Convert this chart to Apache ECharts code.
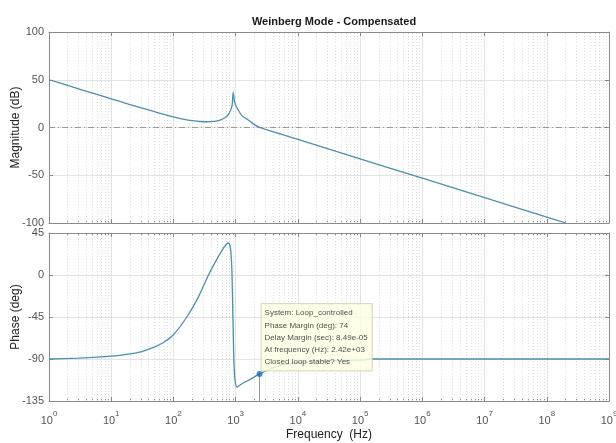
<!DOCTYPE html>
<html>
<head>
<meta charset="utf-8">
<script src="https://cdn.jsdelivr.net/npm/echarts@6/dist/echarts.min.js"></script>
<style>
  html, body { margin: 0; background: #fff; }
  #chart { width: 616px; height: 443px; }
</style>
</head>
<body>
<div id="chart"></div>
<script>
// magnitude curve (Hz, dB)
const magFreq = [1, 2, 5, 10, 20, 50, 100, 150, 200, 270, 350, 450, 560, 680, 770, 840, 880, 912, 960, 1045, 1260, 1500, 1710, 2000, 2420, 3000, 1e4, 1e5, 1e6, 1e7, 1e8, 2.02e8];
const magDb = [50, 44, 36, 30, 24, 16.5, 11, 8.5, 7.2, 6.3, 6, 6.4, 7.7, 10.5, 14, 19, 24, 37, 27, 21, 12.5, 9, 6.5, 3, 0, -1.9, -12.5, -32.8, -53.1, -73.4, -93.8, -100];

// phase curve (Hz, deg)
const phFreq = [1, 3, 10, 20, 31, 50, 70, 100, 164, 250, 366, 500, 640, 755, 800, 840, 870, 900, 930, 960, 1000, 1047, 1300, 1700, 2420, 3500, 5000, 1e4, 3e4, 1.25e5, 1.3e5, 1e9];
const phDeg = [-90, -89, -87, -84.5, -82, -77, -72, -64, -45, -24, 0, 17, 29, 34.3, 33, 24, 5, -40, -85, -108, -117, -120, -116, -112, -106, -101, -97, -94, -92, -91, -90, -90];

// phase margin datatip
const pmFreq = 2420;
const pmPhase = -106;
const tipLines = [
  'System: Loop_controlled',
  'Phase Margin (deg): 74',
  'Delay Margin (sec): 8.49e-05',
  'At frequency (Hz): 2.42e+03',
  'Closed loop stable? Yes'
];

const magTicks = { min: -100, max: 100, interval: 50 };
const phTicks = { min: -135, max: 45, interval: 45 };
const freqRange = { min: 1, max: 1e9 };

const font = "'Liberation Sans', Arial, sans-serif";
const lineColor = '#4d8fac';
const boxColor = '#8a8a8a';

// minor grid lines at 2..9 x 10^n
const minorX = [];
for (let n = 0; n < 9; n++) {
  for (let k = 2; k <= 9; k++) minorX.push(k * Math.pow(10, n));
}

const zip = (xs, ys) => xs.map((x, i) => [x, ys[i]]);

function xAxisFor(grid, bottom) {
  return {
    type: 'log',
    logBase: 10,
    gridIndex: grid,
    position: bottom ? 'bottom' : 'top',
    min: freqRange.min,
    max: freqRange.max,
    axisLine: { show: true, onZero: false, lineStyle: { color: boxColor, width: 1 } },
    axisTick: { show: true, inside: true, length: 4, lineStyle: { color: boxColor } },
    minorTick: { show: true, splitNumber: 9, length: 2, lineStyle: { color: boxColor } },
    splitLine: { show: bottom, lineStyle: { color: '#e3e3e3', width: 1 } },
    axisLabel: {
      show: bottom && grid === 1,
      margin: 9,
      formatter: (v) => '{b|10}{s|' + Math.round(Math.log10(v)) + '}',
      rich: {
        b: { fontFamily: font, fontSize: 11, color: '#555', lineHeight: 16, verticalAlign: 'bottom' },
        s: { fontFamily: font, fontSize: 8, color: '#555', lineHeight: 9, verticalAlign: 'top' }
      }
    },
    name: bottom && grid === 1 ? 'Frequency  (Hz)' : '',
    nameLocation: 'middle',
    nameGap: 28,
    nameTextStyle: { fontFamily: font, fontSize: 12, color: '#222' }
  };
}

function yAxisFor(grid, left, ticks, name) {
  return {
    type: 'value',
    gridIndex: grid,
    position: left ? 'left' : 'right',
    min: ticks.min,
    max: ticks.max,
    interval: ticks.interval,
    axisLine: { show: true, lineStyle: { color: boxColor, width: 1 } },
    axisTick: { show: true, inside: true, length: 4, lineStyle: { color: boxColor } },
    splitLine: { show: left, lineStyle: { color: '#e3e3e3', width: 1 } },
    axisLabel: { show: left, margin: 5, fontFamily: font, fontSize: 11, color: '#555' },
    name: left ? name : '',
    nameLocation: 'middle',
    nameRotate: 90,
    nameGap: 27,
    nameMoveOverlap: false,
    nameTextStyle: { fontFamily: font, fontSize: 12, color: '#222' }
  };
}

const minorGrid = {
  silent: true,
  symbol: 'none',
  z: 1,
  label: { show: false },
  lineStyle: { color: '#dedede', type: [1, 2], width: 1 },
  data: minorX.map((v) => ({ xAxis: v }))
};

const chart = echarts.init(document.getElementById('chart'));
chart.setOption({
  animation: false,
  backgroundColor: '#fff',
  title: {
    text: 'Weinberg Mode - Compensated',
    left: 329,
    textAlign: 'center',
    top: 11,
    textStyle: { fontFamily: font, fontSize: 11, fontWeight: 'bold', color: '#1a1a1a' }
  },
  grid: [
    { left: 49, right: 7, top: 32, height: 191, outerBoundsMode: 'none', containLabel: false },
    { left: 49, right: 7, top: 233, height: 168, outerBoundsMode: 'none', containLabel: false }
  ],
  xAxis: [xAxisFor(0, true), xAxisFor(0, false), xAxisFor(1, true), xAxisFor(1, false)],
  yAxis: [
    yAxisFor(0, true, magTicks, 'Magnitude (dB)'),
    yAxisFor(0, false, magTicks, ''),
    yAxisFor(1, true, phTicks, 'Phase (deg)'),
    yAxisFor(1, false, phTicks, '')
  ],
  series: [
    {
      name: 'Magnitude',
      type: 'line',
      xAxisIndex: 0,
      yAxisIndex: 0,
      data: zip(magFreq, magDb),
      showSymbol: false,
      smooth: 0.2,
      z: 3,
      lineStyle: { color: lineColor, width: 1.3 },
      markLine: {
        silent: true,
        symbol: 'none',
        z: 2,
        label: { show: false },
        lineStyle: { color: '#9a9a9a', type: [6, 3, 1, 3], width: 1 },
        data: [{ yAxis: 0 }]
      }
    },
    {
      name: 'minorMag',
      type: 'line',
      xAxisIndex: 0,
      yAxisIndex: 0,
      data: [[freqRange.min, magTicks.min]],
      showSymbol: false,
      lineStyle: { opacity: 0 },
      markLine: minorGrid
    },
    {
      name: 'Phase',
      type: 'line',
      xAxisIndex: 2,
      yAxisIndex: 2,
      data: zip(phFreq, phDeg),
      showSymbol: false,
      smooth: 0.2,
      z: 3,
      lineStyle: { color: lineColor, width: 1.3 }
    },
    {
      name: 'minorPhase',
      type: 'line',
      xAxisIndex: 2,
      yAxisIndex: 2,
      data: [[freqRange.min, phTicks.min]],
      showSymbol: false,
      lineStyle: { opacity: 0 },
      markLine: minorGrid
    },
    {
      name: 'Phase margin',
      type: 'scatter',
      xAxisIndex: 2,
      yAxisIndex: 2,
      z: 5,
      symbolSize: 6,
      itemStyle: { color: '#1f6db5' },
      data: [[pmFreq, pmPhase]],
      label: {
        show: true,
        position: [5, -67],
        align: 'left',
        verticalAlign: 'top',
        formatter: tipLines.join('\n'),
        fontFamily: font,
        fontSize: 8,
        lineHeight: 12.3,
        color: '#222',
        backgroundColor: '#ffffe3',
        borderColor: '#cfcfb8',
        borderWidth: 1,
        padding: [3, 4, 2, 3]
      },
      markLine: {
        silent: true,
        symbol: 'none',
        z: 4,
        label: { show: false },
        lineStyle: { color: '#999', type: 'solid', width: 1 },
        data: [[{ coord: [pmFreq, pmPhase] }, { coord: [pmFreq, phTicks.min] }]]
      }
    }
  ]
});
</script>
</body>
</html>
